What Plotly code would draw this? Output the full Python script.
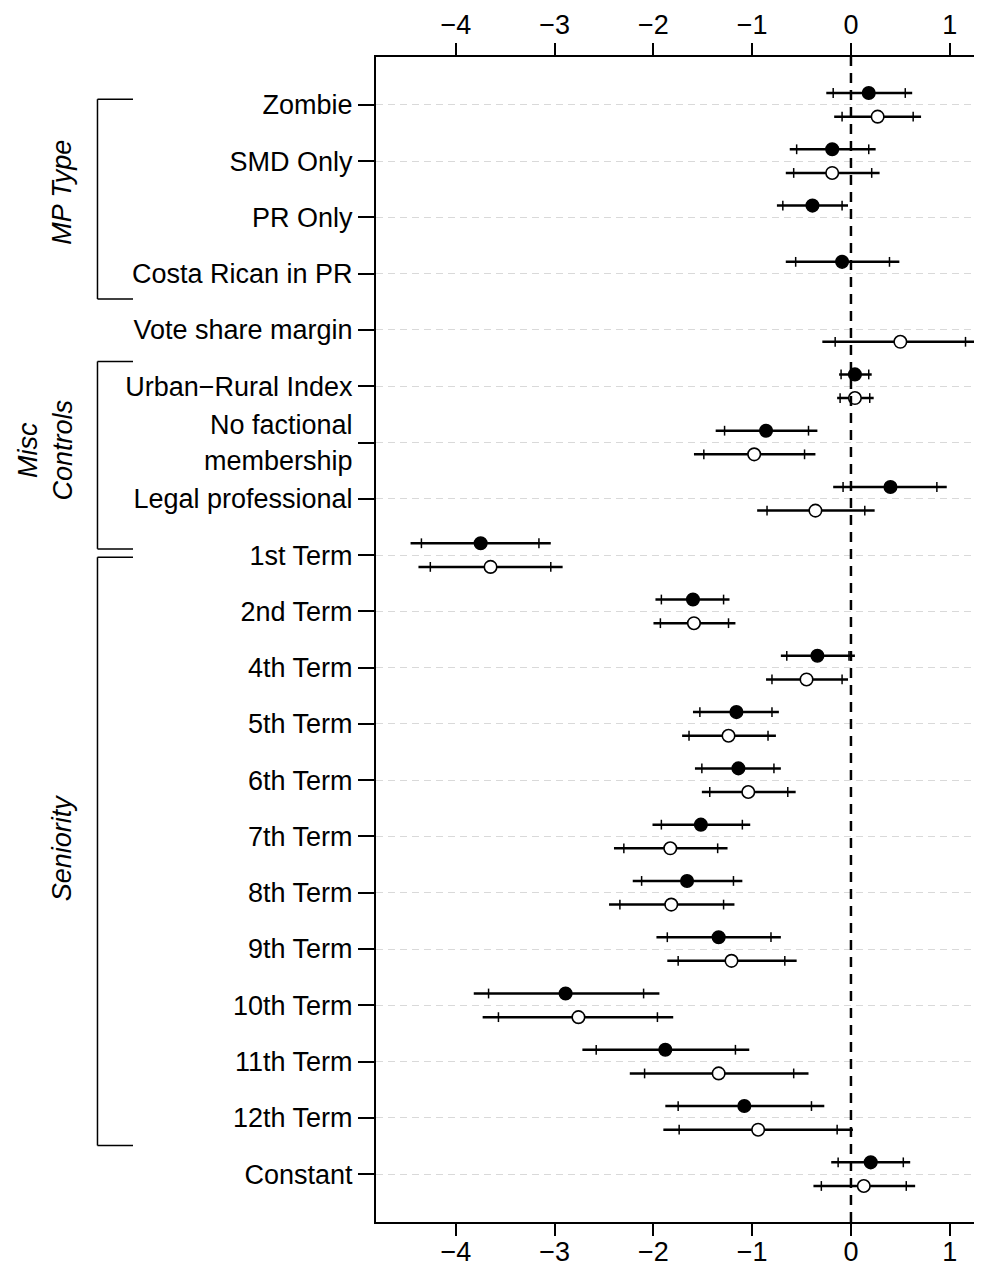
import plotly.graph_objects as go

# ---------------- data ----------------
labels = ["Zombie", "SMD Only", "PR Only", "Costa Rican in PR", "Vote share margin",
          "Urban−Rural Index", "No factional<br>membership", "Legal professional",
          "1st Term", "2nd Term", "4th Term", "5th Term", "6th Term", "7th Term",
          "8th Term", "9th Term", "10th Term", "11th Term", "12th Term", "Constant"]

# Model 1 (filled circles)
est1  = [0.18, -0.19, -0.39, -0.09, None, 0.04, -0.86, 0.40, -3.75, -1.60, -0.34, -1.16, -1.14, -1.52, -1.66, -1.34, -2.89, -1.88, -1.08, 0.20]
lo95_1 = [-0.25, -0.62, -0.75, -0.66, None, -0.12, -1.37, -0.18, -4.46, -1.98, -0.71, -1.60, -1.58, -2.01, -2.21, -1.97, -3.82, -2.72, -1.88, -0.20]
hi95_1 = [0.62, 0.25, -0.03, 0.49, None, 0.21, -0.34, 0.97, -3.04, -1.23, 0.04, -0.73, -0.71, -1.02, -1.10, -0.71, -1.94, -1.03, -0.27, 0.60]
lo90_1 = [-0.18, -0.55, -0.69, -0.56, None, -0.10, -1.28, -0.08, -4.35, -1.92, -0.65, -1.53, -1.51, -1.92, -2.12, -1.86, -3.67, -2.58, -1.75, -0.13]
hi90_1 = [0.55, 0.18, -0.09, 0.39, None, 0.18, -0.43, 0.87, -3.16, -1.29, -0.02, -0.80, -0.78, -1.10, -1.19, -0.81, -2.10, -1.17, -0.40, 0.53]

# Model 2 (open circles)
est2  = [0.27, -0.19, None, None, 0.50, 0.04, -0.98, -0.36, -3.65, -1.59, -0.45, -1.24, -1.04, -1.83, -1.82, -1.21, -2.76, -1.34, -0.94, 0.13]
lo95_2 = [-0.17, -0.66, None, None, -0.29, -0.14, -1.59, -0.95, -4.38, -2.00, -0.86, -1.71, -1.51, -2.40, -2.45, -1.86, -3.73, -2.24, -1.90, -0.38]
hi95_2 = [0.71, 0.29, None, None, 1.30, 0.23, -0.36, 0.24, -2.92, -1.17, -0.03, -0.76, -0.56, -1.25, -1.18, -0.55, -1.80, -0.43, 0.02, 0.65]
lo90_2 = [-0.09, -0.58, None, None, -0.16, -0.11, -1.49, -0.85, -4.26, -1.93, -0.80, -1.64, -1.43, -2.30, -2.34, -1.75, -3.57, -2.09, -1.74, -0.30]
hi90_2 = [0.63, 0.21, None, None, 1.16, 0.19, -0.47, 0.14, -3.04, -1.24, -0.09, -0.84, -0.64, -1.35, -1.29, -0.67, -1.96, -0.58, -0.14, 0.56]

x_ticks = [-4, -3, -2, -1, 0, 1]

groups = ["MP Type", "Misc<br>Controls", "Seniority"]

# ---------------- figure ----------------
FONT = "Liberation Sans, Arial, Helvetica, sans-serif"
FS = 27
OFF = 0.21

fig = go.Figure()


def add_series(est, lo95, hi95, lo90, hi90, off, filled):
    lx, ly, tx, ty, px, py = [], [], [], [], [], []
    for i, e in enumerate(est):
        if e is None:
            continue
        y = i + off
        lx += [lo95[i], hi95[i], None]
        ly += [y, y, None]
        tx += [lo90[i], hi90[i]]
        ty += [y, y]
        px.append(e)
        py.append(y)
    fig.add_trace(go.Scatter(x=lx, y=ly, mode="lines",
                             line=dict(color="black", width=2.5),
                             hoverinfo="skip", showlegend=False))
    fig.add_trace(go.Scatter(x=tx, y=ty, mode="markers",
                             marker=dict(symbol="line-ns", size=7,
                                         line=dict(color="black", width=1.5)),
                             hoverinfo="skip", showlegend=False))
    fig.add_trace(go.Scatter(x=px, y=py, mode="markers",
                             marker=dict(symbol="circle", size=12.5,
                                         color="black" if filled else "white",
                                         line=dict(color="black", width=1.6)),
                             showlegend=False))
    return px, py


add_series(est1, lo95_1, hi95_1, lo90_1, hi90_1, -OFF, True)
px2, py2 = add_series(est2, lo95_2, hi95_2, lo90_2, hi90_2, OFF, False)

# invisible trace to activate the top axis
fig.add_trace(go.Scatter(x=px2, y=py2, xaxis="x2", mode="markers",
                         marker=dict(opacity=0), hoverinfo="skip", showlegend=False))

# zero reference line
fig.add_shape(type="line", xref="x", yref="paper", x0=0, x1=0, y0=0, y1=1,
              line=dict(color="black", width=2.5, dash="10px,7px"), layer="above")

# group brackets (pixel-derived paper coordinates)
bx0, bx1 = -0.4596, -0.401
brackets = [(-0.10, 3.45), (4.56, 7.89), (8.04, 18.49)]
for (ya, yb) in brackets:
    for path in [dict(x0=bx0, x1=bx0, y0=ya, y1=yb),
                 dict(x0=bx0, x1=bx1, y0=ya, y1=ya),
                 dict(x0=bx0, x1=bx1, y0=yb, y1=yb)]:
        fig.add_shape(type="line", xref="paper", yref="y",
                      line=dict(color="black", width=1.5), **path)

label_pos = [(-0.518, 1.56), (-0.545, 6.13), (-0.519, 13.2)]
for g, (ax, ay) in zip(groups, label_pos):
    fig.add_annotation(text=g, xref="paper", yref="y", x=ax, y=ay,
                       textangle=-90, showarrow=False,
                       xanchor="center", yanchor="middle",
                       font=dict(family=FONT, size=FS, color="black", style="italic"))

xr = [-4.81, 1.327]
axis_common = dict(range=xr, tickvals=x_ticks, ticks="outside", ticklen=12,
                   tickwidth=1.5, tickcolor="black", showline=True, linewidth=2,
                   linecolor="black", showgrid=False, zeroline=False,
                   tickfont=dict(family=FONT, size=FS, color="black"))

# page body has an 8px margin; size the figure so the plot lands where the reference has it
fig.update_layout(
    width=974, height=1268,
    margin=dict(l=368, r=0, t=49, b=54),
    plot_bgcolor="white", paper_bgcolor="white",
    font=dict(family=FONT, size=FS, color="black"),
    xaxis=dict(**axis_common, side="bottom", ticklabelstandoff=-7),
    xaxis2=dict(**axis_common, side="top", overlaying="x", anchor="y",
                ticklabelstandoff=-2),
    yaxis=dict(range=[19.85, -0.85], tickvals=list(range(len(labels))),
               ticktext=labels, ticks="outside", ticklen=16, tickwidth=1.5,
               tickcolor="black", showline=True, linewidth=2, linecolor="black",
               showgrid=True, gridcolor="#d9d9d9", gridwidth=1, griddash="7px,5px",
               zeroline=False, ticklabelstandoff=0,
               tickfont=dict(family=FONT, size=FS, color="black")),
    showlegend=False,
)

fig.write_html("out.html")
